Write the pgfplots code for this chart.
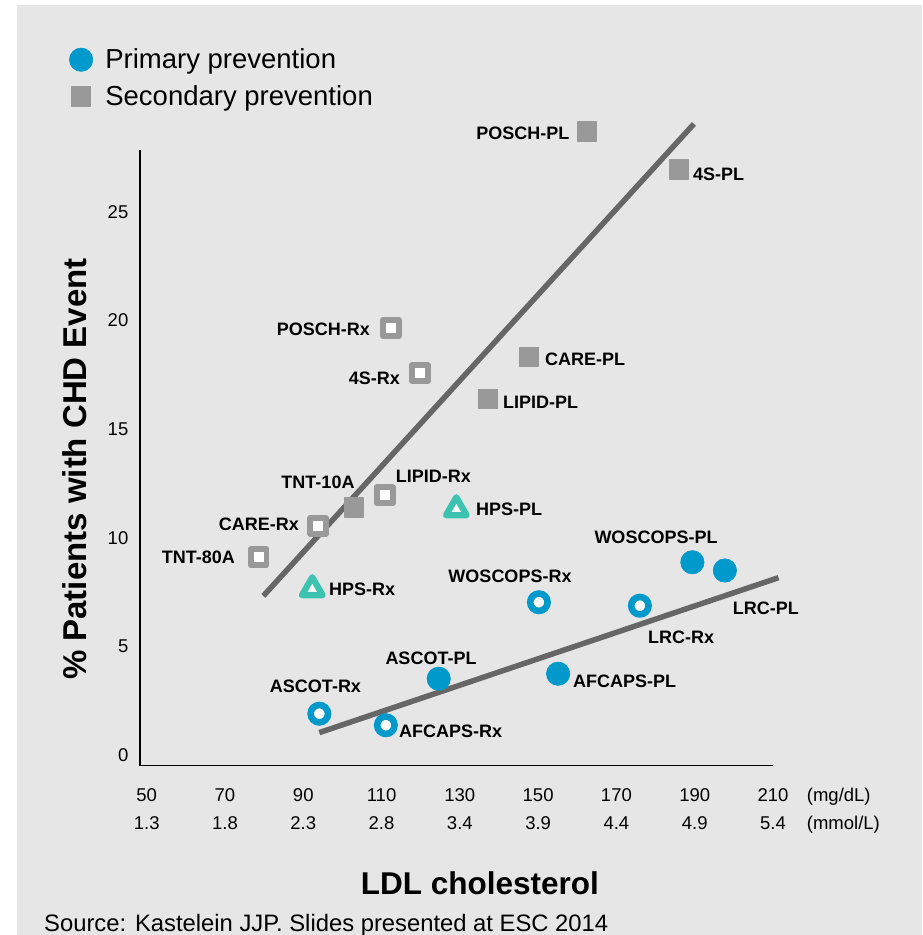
\documentclass[border=0pt]{standalone}
\usepackage{fontspec}
\setmainfont{Liberation Sans}
\usepackage{pgfplots}
\pgfplotsset{compat=1.18}
\definecolor{bg}{HTML}{E6E6E6}
\definecolor{pblue}{HTML}{0099CC}
\definecolor{sgray}{HTML}{999999}
\definecolor{lgray}{HTML}{666666}
\definecolor{tealx}{HTML}{3CC4B0}
\begin{document}
\begin{tikzpicture}[x=1pt,y=1pt]
\useasboundingbox (0,0) rectangle (922,935);
\fill[white] (0,0) rectangle (922,935);
\fill[bg] (17,0) rectangle (922,930);
\begin{axis}[
  at={(140pt,169.3pt)}, anchor=south west,
  scale only axis, width=633pt, height=615.7pt,
  xmin=48.29, xmax=210, ymin=-0.492, ymax=27.84,
  axis lines=left,
  axis line style={-, black, line width=1.4pt},
  major tick length=0pt,
  clip=false,
  xtick={50,70,90,110,130,150,170,190,210},
  xticklabels={{50\\1.3},{70\\1.8},{90\\2.3},{110\\2.8},{130\\3.4},{150\\3.9},{170\\4.4},{190\\4.9},{210\\5.4}},
  ytick={0,5,10,15,20,25},
  /pgf/number format/assume math mode=true,
  xticklabel style={font=\fontsize{18.5}{27.7}\selectfont, align=center, inner sep=0pt, anchor=north, yshift=-22.8pt},
  yticklabel style={font=\fontsize{18.5}{22}\selectfont, inner sep=0pt, anchor=east, xshift=-11.5pt},
  legend cell align=left,
  legend style={draw=none, fill=none, inner sep=0pt,
    at={(-0.1118,1.1660)}, anchor=north west,
    font=\fontsize{27.5}{31}\selectfont,
    row sep=14.5pt,
    nodes={inner sep=0pt},
    /tikz/every odd column/.append style={column sep=12.5pt}},
  legend image code/.code={\draw[#1] plot coordinates {(0pt,0pt)};},
]
% legend images
\addlegendimage{only marks, mark=*, mark size=11.7pt, mark options={fill=pblue, draw=pblue, line width=0.6pt}}
\addlegendentry{Primary prevention}
\addlegendimage{only marks, mark=square*, mark size=9.6pt, mark options={fill=sgray, draw=sgray, line width=1.5pt, line join=round}}
\addlegendentry{Secondary prevention}

% regression lines
\addplot[no marks, color=lgray, line width=5.5pt, forget plot] coordinates {(79.8,7.32) (189.8,29.04)};
\addplot[no marks, color=lgray, line width=5.5pt, forget plot] coordinates {(94.1,1.03) (211.4,8.16)};

% secondary prevention, placebo (filled squares)
\addplot[only marks, forget plot, mark=square*, mark size=9.5pt, mark options={fill=sgray, draw=sgray, line width=1.5pt, line join=round}] coordinates {
(162.5,28.70) (186.0,26.95) (147.7,18.32) (137.2,16.38) (102.9,11.39)};

% secondary prevention, treatment (hollow squares)
\addplot[only marks, forget plot, mark=square*, mark size=7.95pt, mark options={fill=white, draw=sgray, line width=5.8pt, line join=round}] coordinates {
(112.4,19.65) (119.8,17.58) (110.8,11.95) (93.8,10.55) (78.6,9.10)};

% HPS (triangles)
\addplot[only marks, forget plot, mark=triangle*, mark size=11.9pt, mark options={fill=white, draw=tealx, line width=6.3pt, line join=round}] coordinates {
(129.1,11.31) (92.3,7.63)};

% primary prevention, placebo (filled circles)
\addplot[only marks, forget plot, mark=*, mark size=11.7pt, mark options={fill=pblue, draw=pblue, line width=0.6pt}] coordinates {
(189.4,8.87) (197.7,8.49) (124.6,3.51) (155.1,3.74)};

% primary prevention, treatment (hollow circles)
\addplot[only marks, forget plot, mark=*, mark size=8.7pt, mark options={fill=white, draw=pblue, line width=6.6pt}] coordinates {
(150.2,7.03) (176.0,6.87) (94.1,1.90) (111.1,1.37)};
\end{axis}

\tikzset{lab/.style={font=\bfseries\fontsize{18}{21}\selectfont, inner sep=0pt}}
\node[lab, anchor=east] at (569.5,802) {POSCH-PL};
\node[lab, anchor=west] at (693,761) {4S-PL};
\node[lab, anchor=east] at (370,606) {POSCH-Rx};
\node[lab, anchor=east] at (400,557) {4S-Rx};
\node[lab, anchor=west] at (545,576) {CARE-PL};
\node[lab, anchor=west] at (503,533) {LIPID-PL};
\node[lab] at (318,452.3) {TNT-10A};
\node[lab, anchor=west] at (395.7,458.3) {LIPID-Rx};
\node[lab, anchor=east] at (299,411) {CARE-Rx};
\node[lab, anchor=east] at (235,378) {TNT-80A};
\node[lab, anchor=west] at (476,426) {HPS-PL};
\node[lab, anchor=west] at (329,346) {HPS-Rx};
\node[lab] at (656,398) {WOSCOPS-PL};
\node[lab] at (510,359) {WOSCOPS-Rx};
\node[lab, anchor=west] at (732.7,327) {LRC-PL};
\node[lab, anchor=west] at (648,297.3) {LRC-Rx};
\node[lab] at (431,277) {ASCOT-PL};
\node[lab] at (315.5,248.3) {ASCOT-Rx};
\node[lab, anchor=west] at (399,204) {AFCAPS-Rx};
\node[lab, anchor=west] at (573,254) {AFCAPS-PL};

\node[anchor=base west, inner sep=0pt, font=\fontsize{18.5}{22}\selectfont] at (806.7,133.3) {(mg/dL)};
\node[anchor=base west, inner sep=0pt, font=\fontsize{18.5}{22}\selectfont] at (806.7,105.6) {(mmol/L)};

\node[anchor=base, inner sep=0pt, font=\bfseries\fontsize{31.5}{36}\selectfont] at (480,40) {LDL cholesterol};
\node[anchor=base west, inner sep=0pt, font=\fontsize{23.8}{28}\selectfont] at (44,3.3) {Source: Kastelein JJP. Slides presented at ESC 2014};
\node[rotate=90, inner sep=0pt, font=\bfseries\fontsize{33}{38}\selectfont] at (74.5,466) {\% Patients with CHD Event};
\end{tikzpicture}
\end{document}
